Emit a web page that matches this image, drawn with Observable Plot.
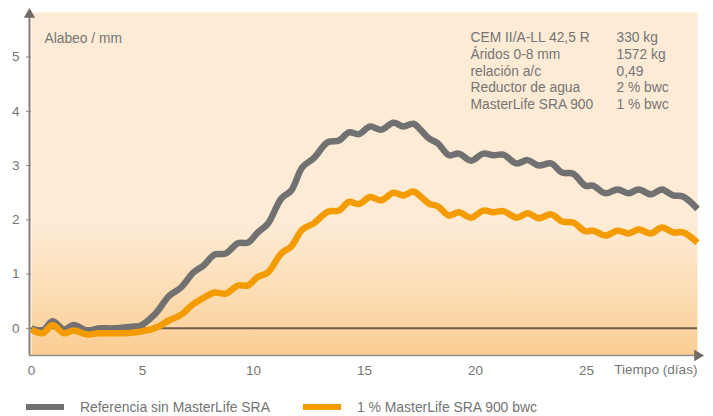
<!DOCTYPE html>
<html>
<head>
<meta charset="utf-8">
<script src="https://cdn.jsdelivr.net/npm/d3@7"></script>
<script src="https://cdn.jsdelivr.net/npm/@observablehq/plot@0.6"></script>
<style>
  body { margin: 0; background: #fff; font-family: "Liberation Sans", Arial, sans-serif; }
  #chart { width: 713px; }
  .legend { position: relative; height: 26px; font-size: 13.9px; color: #747474; }
  .legend .item { position: absolute; top: 9px; display: flex; align-items: center; }
  .legend .sw { width: 38px; height: 6px; margin-right: 16px; }
</style>
</head>
<body>
<div id="chart"></div>
<script>
// ---- data ----
const days = [0, 0.5, 0.95, 1.45, 1.9, 2.5, 3.0, 3.7, 4.5, 4.9,
  5.6, 6.2, 6.7, 7.3, 7.75, 8.25, 8.75, 9.3, 9.75, 10.2,
  10.65, 11.25, 11.7, 12.2, 12.7, 13.35, 13.85, 14.3, 14.75, 15.25,
  15.75, 16.3, 16.75, 17.2, 17.55, 17.9, 18.3, 18.8, 19.25, 19.8,
  20.35, 20.8, 21.25, 21.85, 22.35, 22.85, 23.4, 23.9, 24.4, 24.95,
  25.3, 25.85, 26.4, 26.9, 27.35, 27.9, 28.4, 28.9, 29.35, 30];
const referencia = [0, -0.04, 0.13, -0.02, 0.06, -0.04, 0.0, 0.0, 0.03, 0.05,
  0.28, 0.6, 0.74, 1.03, 1.16, 1.36, 1.38, 1.57, 1.58, 1.77,
  1.93, 2.39, 2.54, 2.97, 3.13, 3.43, 3.46, 3.61, 3.58, 3.72,
  3.66, 3.79, 3.72, 3.77, 3.65, 3.5, 3.41, 3.19, 3.22, 3.09,
  3.22, 3.19, 3.2, 3.04, 3.1, 3.0, 3.04, 2.87, 2.85, 2.63,
  2.63, 2.49, 2.56, 2.49, 2.56, 2.47, 2.56, 2.45, 2.43, 2.2];
const sra900 = [-0.02, -0.09, 0.06, -0.09, -0.04, -0.11, -0.09, -0.09, -0.08, -0.06,
  0.01, 0.15, 0.24, 0.45, 0.56, 0.66, 0.64, 0.79, 0.79, 0.95,
  1.03, 1.38, 1.51, 1.82, 1.93, 2.15, 2.17, 2.33, 2.29, 2.42,
  2.36, 2.5, 2.45, 2.52, 2.42, 2.3, 2.25, 2.08, 2.14, 2.04,
  2.17, 2.14, 2.16, 2.04, 2.12, 2.03, 2.1, 1.97, 1.95, 1.79,
  1.8, 1.71, 1.8, 1.75, 1.82, 1.75, 1.86, 1.77, 1.77, 1.58];
const seriesNames = ["Referencia sin MasterLife SRA", "1 % MasterLife SRA 900 bwc"];
const seriesColors = ["#717171", "#f49b00"];
const xTicks = [0, 5, 10, 15, 20, 25];
const yTicks = [0, 1, 2, 3, 4, 5];
const xDomain = [0, 30];
const yDomain = [-0.5, 5.82];
const xLabel = "Tiempo (días)";
const yLabel = "Alabeo / mm";
const recipeLabels = ["CEM II/A-LL 42,5 R", "Áridos 0-8 mm", "relación a/c", "Reductor de agua", "MasterLife SRA 900"];
const recipeValues = ["330 kg", "1572 kg", "0,49", "2 % bwc", "1 % bwc"];

const rows = [];
days.forEach((d, i) => {
  rows.push({day: d, value: referencia[i], serie: seriesNames[0]});
});
days.forEach((d, i) => {
  rows.push({day: d, value: sra900[i], serie: seriesNames[1]});
});

const defs = () => {
  const g = d3.create("svg:defs");
  const lg = g.append("linearGradient").attr("id", "bgGrad").attr("x1", 0).attr("y1", 0).attr("x2", 0).attr("y2", 1);
  lg.append("stop").attr("offset", "0").attr("stop-color", "#fdebd5");
  lg.append("stop").attr("offset", "0.62").attr("stop-color", "#fdebd5");
  lg.append("stop").attr("offset", "0.8").attr("stop-color", "#fcdeb6");
  lg.append("stop").attr("offset", "1").attr("stop-color", "#fbcd93");
  return g.node();
};

const fontFam = "'Liberation Sans', Arial, sans-serif";

const plot = Plot.plot({
  width: 713,
  height: 390,
  marginLeft: 31,
  marginRight: 16,
  marginTop: 12,
  marginBottom: 35,
  style: {fontFamily: fontFam, fontSize: "13px", color: "#757575", background: "transparent"},
  x: {domain: xDomain},
  y: {domain: yDomain},
  color: {domain: seriesNames, range: seriesColors},
  marks: [
    defs,
    Plot.frame({fill: "url(#bgGrad)", stroke: null}),
    Plot.ruleY([0], {stroke: "#6e5c4c", strokeWidth: 2}),
    Plot.axisY({ticks: yTicks, tickFormat: d => String(d), tickSize: 5, tickPadding: 7, label: null, stroke: "#8a8078", fontSize: 13.5}),
    Plot.axisX({ticks: xTicks, tickFormat: d => String(d), tickSize: 0, tickPadding: 10, label: null, fontSize: 13.5}),
    Plot.ruleX([xDomain[0]], {y1: yDomain[0], y2: yDomain[1], dx: -2, stroke: "#8a8078", strokeWidth: 2}),
    Plot.ruleY([yDomain[0]], {x1: xDomain[0], x2: xDomain[1], dx: -2, stroke: "#8e8e8e", strokeWidth: 1.5}),
    Plot.dot([xDomain[0]], {x: d => d, y: () => yDomain[1], dx: -2, dy: 2, symbol: "triangle", r: 4.2, fill: "#6f6a66", stroke: null}),
    Plot.dot([xDomain[1]], {x: d => d, y: () => yDomain[0], symbol: "triangle", rotate: 90, r: 4.2, fill: "#6f6a66", stroke: null}),
    Plot.line(rows, {x: "day", y: "value", z: "serie", stroke: "serie", strokeWidth: 6.5, curve: "catmull-rom", strokeLinejoin: "round", strokeLinecap: "butt"}),
    Plot.text([yLabel], {frameAnchor: "top-left", dx: 13, dy: 21, text: d => d, fontSize: 13.8, textAnchor: "start", fill: "#757575"}),
    Plot.text([xLabel], {frameAnchor: "bottom-right", dy: 18, text: d => d, fontSize: 13.6, textAnchor: "end", fill: "#757575"}),
    Plot.text([recipeLabels.join("\n")], {frameAnchor: "top-left", dx: 439, dy: 18, text: d => d, fontSize: 13.8, lineHeight: 1.21, lineAnchor: "top", textAnchor: "start", fill: "#757575"}),
    Plot.text([recipeValues.join("\n")], {frameAnchor: "top-left", dx: 585, dy: 18, text: d => d, fontSize: 13.8, lineHeight: 1.21, lineAnchor: "top", textAnchor: "start", fill: "#757575"})
  ]
});
document.getElementById("chart").appendChild(plot);

// legend
const legend = document.createElement("div");
legend.className = "legend";
const lefts = [26, 303];
seriesNames.forEach((name, i) => {
  const item = document.createElement("div");
  item.className = "item";
  item.style.left = lefts[i] + "px";
  const sw = document.createElement("span");
  sw.className = "sw";
  sw.style.background = seriesColors[i];
  const tx = document.createElement("span");
  tx.textContent = name;
  item.appendChild(sw);
  item.appendChild(tx);
  legend.appendChild(item);
});
document.getElementById("chart").appendChild(legend);
</script>
</body>
</html>
